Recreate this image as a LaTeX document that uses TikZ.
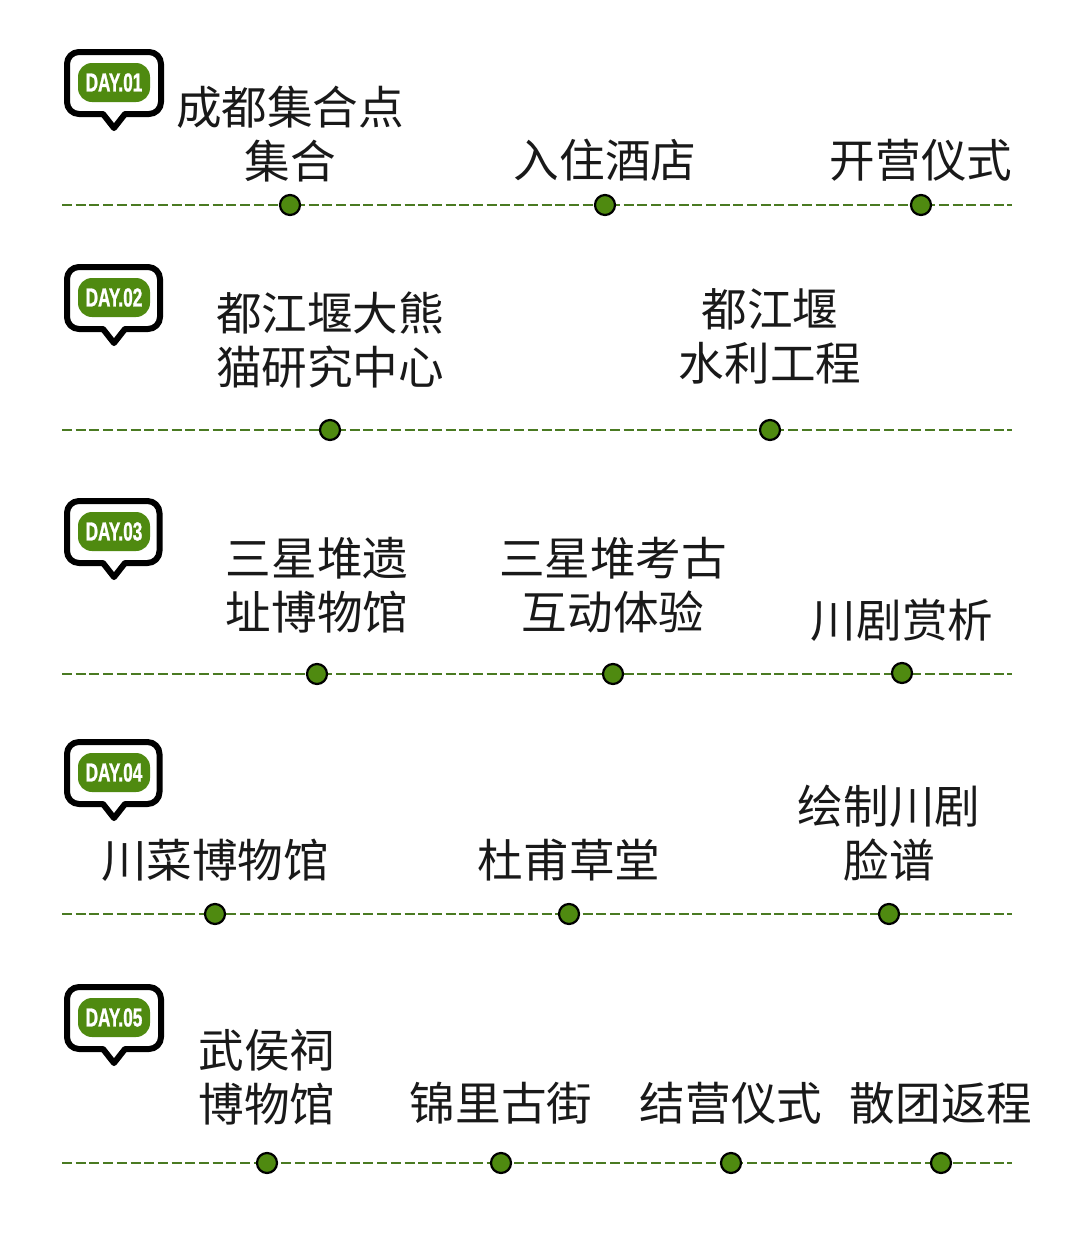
\documentclass[tikz,border=0pt]{standalone}
\usepackage{fontspec}
\newfontfamily\cjk{Noto Sans CJK SC}
\newfontfamily\daybadge[FakeStretch=0.66,FakeBold=1]{Liberation Sans Bold}
\definecolor{leaf}{HTML}{4F8A10}
\definecolor{routegreen}{HTML}{4A7A22}
\tikzset{
  x=1pt,y=-1pt,
  stop/.style={circle,draw=black,line width=2.2pt,fill=leaf,minimum size=20pt,inner sep=0pt},
  route/.style={draw=routegreen,line width=1.2pt,dash pattern=on 10pt off 3.7pt},
  place/.style={font=\cjk\fontsize{45.6}{54}\selectfont,align=center,inner sep=0pt,text=black!90},
  bubble/.style={draw=black,line width=6pt,fill=white,rounded corners=12pt,line join=round},
  pill/.style={fill=leaf,draw=none,rounded corners=14pt,minimum width=72pt,minimum height=39pt,inner sep=0pt,text=white,font=\daybadge\fontsize{26}{26}\selectfont}
}
% #1 name, #2 top y, #3 right x of the bubble's stroke centre, #4 label
\newcommand{\daytag}[4]{%
  \draw[bubble] (67,#2+3) -- (#3,#2+3) -- (#3,#2+65) [sharp corners] -- (125,#2+65) -- (114,#2+79) -- (103,#2+65) [rounded corners=12pt] -- (67,#2+65) -- cycle;
  \node[pill] (#1) at (114,#2+33.5) {#4};
}
\begin{document}
\begin{tikzpicture}
\useasboundingbox (0,0) rectangle (1080,1256);
\fill[white] (0,0) rectangle (1080,1256);
% day 1
\daytag{dayA}{49}{161}{DAY.01}
\coordinate (a0) at (62,205); \coordinate (a9) at (1011.5,205);
\draw[route] (a0) -- (a9);
\node[stop] (a1) at (290,205) {};
\node[stop] (a2) at (605,205) {};
\node[stop] (a3) at (921,205) {};
\node[place] (ta1) at (290,134) {成都集合点\\集合};
\node[place] (ta2) at (605,160) {入住酒店};
\node[place] (ta3) at (921,160) {开营仪式};
% day 2
\daytag{dayB}{264}{160}{DAY.02}
\coordinate (b0) at (62,430); \coordinate (b9) at (1011.5,430);
\draw[route] (b0) -- (b9);
\node[stop] (b1) at (330,430) {};
\node[stop] (b2) at (770,430) {};
\node[place] (tb1) at (330,340.5) {都江堰大熊\\猫研究中心};
\node[place] (tb2) at (770,336.5) {都江堰\\水利工程};
% day 3
\daytag{dayC}{498}{159.5}{DAY.03}
\coordinate (c0) at (62,674); \coordinate (c9) at (1011.5,674);
\draw[route] (c0) -- (c9);
\node[stop] (c1) at (317,674) {};
\node[stop] (c2) at (613,674) {};
\node[stop] (c3) at (902,673) {};
\node[place] (tc1) at (317,585) {三星堆遗\\址博物馆};
\node[place] (tc2) at (613,585) {三星堆考古\\互动体验};
\node[place] (tc3) at (902,620) {川剧赏析};
% day 4
\daytag{dayD}{739}{159.5}{DAY.04}
\coordinate (d0) at (62,914); \coordinate (d9) at (1011.5,914);
\draw[route] (d0) -- (d9);
\node[stop] (d1) at (215,914) {};
\node[stop] (d2) at (569,914) {};
\node[stop] (d3) at (889,914) {};
\node[place] (td1) at (215,860) {川菜博物馆};
\node[place] (td2) at (569,860) {杜甫草堂};
\node[place] (td3) at (889,833) {绘制川剧\\脸谱};
% day 5
\daytag{dayE}{984}{161}{DAY.05}
\coordinate (e0) at (62,1163); \coordinate (e9) at (1011.5,1163);
\draw[route] (e0) -- (e9);
\node[stop] (e1) at (267,1163) {};
\node[stop] (e2) at (501,1163) {};
\node[stop] (e3) at (731,1163) {};
\node[stop] (e4) at (941,1163) {};
\node[place] (te1) at (267,1077) {武侯祠\\博物馆};
\node[place] (te2) at (501,1103) {锦里古街};
\node[place] (te3) at (731,1103) {结营仪式};
\node[place] (te4) at (941,1103) {散团返程};
\end{tikzpicture}
\end{document}
